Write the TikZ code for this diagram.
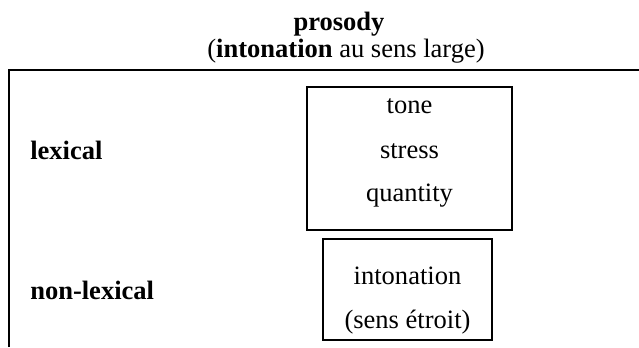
\documentclass[tikz,border=0pt]{standalone}
\usepackage{fontspec}
\setmainfont{Liberation Serif}
\usetikzlibrary{positioning}

\tikzset{
  lbl/.style={inner sep=0pt,font=\fontsize{19.9}{24}\selectfont},
  frameline/.style={line width=1pt},
  boxline/.style={line width=0.8pt}
}

\begin{document}
\begin{tikzpicture}[x=0.75pt,y=-0.75pt]
  \useasboundingbox (0,0) rectangle (639,347);
  % title
  \node[lbl,anchor=base] (title) at (339,30) {\textbf{prosody}};
  \node[lbl,anchor=base] (subtitle) at (346,57) {(\textbf{intonation} au sens large)};
  % open frame
  \draw[frameline] (9,347) -- (9,70) -- (639,70);
  % rows
  \node[lbl,anchor=base west] (lexical) at (30,159) {\textbf{lexical}};
  \node[lbl,anchor=base west] (nonlexical) at (30,299) {\textbf{non-lexical}};
  % boxes
  \draw[boxline] (307,87) rectangle (512,230);
  \foreach \w/\y in {tone/113, stress/158, quantity/201}
    \node[lbl,anchor=base] (\w) at (409.5,\y) {\w};
  \draw[boxline] (323,239) rectangle (492,340);
  \node[lbl,anchor=base] (intonation) at (407.5,284) {intonation};
  \node[lbl,anchor=base] (narrow) at (407.5,328) {(sens étroit)};
\end{tikzpicture}
\end{document}
